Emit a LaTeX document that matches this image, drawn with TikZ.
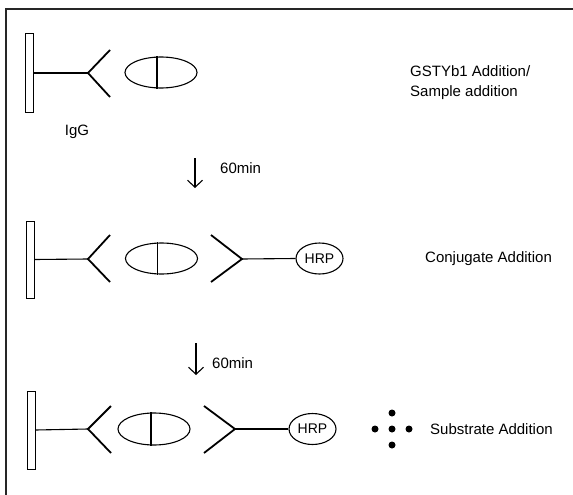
\documentclass[tikz,border=0pt]{standalone}
\usepackage{fontspec}
\setmainfont{Liberation Sans}
\usetikzlibrary{shapes.geometric,arrows.meta}
\begin{document}
\begin{tikzpicture}[x=1pt,y=-1pt,
 plate/.style={draw, line width=1pt, fill=white, minimum width=8pt, minimum height=78pt, inner sep=0pt},
 antigen/.style={draw, ellipse, line width=1.1pt, minimum width=72pt, minimum height=31pt, inner sep=0pt},
 hrp/.style={draw, ellipse, line width=1.1pt, minimum width=47pt, minimum height=31pt, inner sep=0pt, font=\fontsize{14}{16}\selectfont},
 stem/.style={line width=1.1pt},
 arm/.style={line width=1.8pt},
 lbl/.style={font=\fontsize{15}{20}\selectfont, inner sep=0pt},
 flow/.style={line width=1.1pt, -{Straight Barb[length=7pt,width=15pt]}},
 dot/.style={circle, fill=black, minimum size=7pt, inner sep=0pt},
]
\useasboundingbox (0,0) rectangle (573,495);
\fill[white] (0,0) rectangle (573,495);
% frame
\coordinate (fbl) at (6,495);
\coordinate (ftl) at (6,8.7);
\coordinate (ftr) at (573,8.7);
\draw[line width=2.2pt, draw=black!85] (fbl) -- (ftl) -- (ftr);

% ---- row 1
\node[plate] (p1) at (29,73) {};
\coordinate (v1) at (88,73);
\coordinate (a1t) at (110,50);
\coordinate (a1b) at (110,97);
\draw[stem] (p1.east) -- (v1);
\draw[arm] (a1t) -- (v1) -- (a1b);
\node[antigen] (e1) at (161,72.5) {};
\draw[stem] ([xshift=-4pt]e1.north) -- ([xshift=-4pt]e1.south);
\node[lbl] (igg) at (77,132) {IgG};
\node[lbl, anchor=west, align=left] (t1) at (410,83) {GSTYb1 Addition/\\Sample addition};

% arrow 1
\coordinate (f1s) at (195,158);
\coordinate (f1e) at (195,188);
\draw[flow] (f1s) -- (f1e);
\node[lbl, anchor=west] (m1) at (220,168) {60min};

% ---- row 2
\node[plate, minimum height=77pt] (p2) at (30,259.5) {};
\coordinate (v2) at (88,259);
\coordinate (a2t) at (110,235);
\coordinate (a2b) at (110,282);
\draw[stem] (p2.east) -- (v2);
\draw[arm] (a2t) -- (v2) -- (a2b);
\node[antigen] (e2) at (161.5,258.5) {};
\draw[stem] ([xshift=-4pt]e2.north) -- ([xshift=-4pt]e2.south);
\coordinate (b2t) at (211,235);
\coordinate (b2b) at (211,282);
\coordinate (w2) at (242,259);
\draw[arm] (b2t) -- (w2) -- (b2b);
\node[hrp] (h2) at (319.5,258.5) {HRP};
\draw[stem] (w2) -- (h2.west);
\node[lbl, anchor=west] (t2) at (425,259) {Conjugate Addition};

% arrow 2
\coordinate (f2s) at (196,343);
\coordinate (f2e) at (196,375);
\draw[flow] (f2s) -- (f2e);
\node[lbl, anchor=west] (m2) at (212,363) {60min};

% ---- row 3
\node[plate] (p3) at (31,430) {};
\coordinate (v3) at (88,429);
\coordinate (a3t) at (111,406);
\coordinate (a3b) at (111,453);
\draw[stem] (p3.east) -- (v3);
\draw[arm] (a3t) -- (v3) -- (a3b);
\node[antigen, minimum height=32pt] (e3) at (154,429) {};
\draw[stem] ([xshift=-3pt]e3.north) -- ([xshift=-3pt]e3.south);
\coordinate (b3t) at (204,406);
\coordinate (b3b) at (204,453);
\coordinate (w3) at (235,429);
\draw[arm] (b3t) -- (w3) -- (b3b);
\node[hrp] (h3) at (312.5,429) {HRP};
\draw[stem] (w3) -- (h3.west);
\node[dot] (d1) at (375,429) {};
\node[dot] (d2) at (392,429) {};
\node[dot] (d3) at (409,429) {};
\node[dot] (d4) at (392,413) {};
\node[dot] (d5) at (392,445) {};
\node[lbl, anchor=west] (t3) at (430,429) {Substrate Addition};
\end{tikzpicture}
\end{document}
